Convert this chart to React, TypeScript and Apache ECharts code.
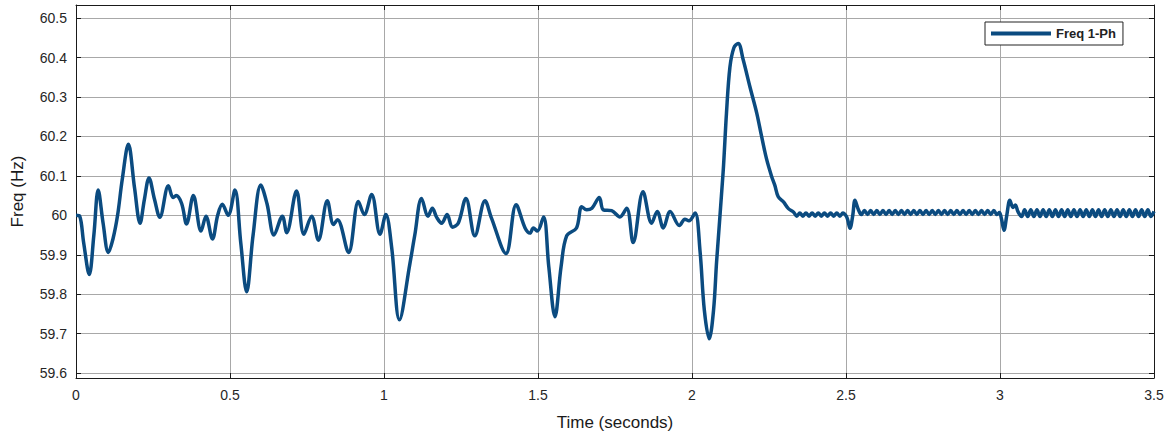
import React, { useEffect, useRef } from "react";
import * as echarts from "echarts";

const seriesName = "Freq 1-Ph";
const xTicks = [0, 0.5, 1, 1.5, 2, 2.5, 3, 3.5];
const yTicks = [59.6, 59.7, 59.8, 59.9, 60.0, 60.1, 60.2, 60.3, 60.4, 60.5];

// [time (s), frequency (Hz)]
const transientA: number[][] = [
  [0, 60.0], [0.012, 59.998], [0.025, 59.93], [0.043, 59.85], [0.058, 59.95],
  [0.072, 60.064], [0.088, 59.98], [0.105, 59.906], [0.12, 59.94], [0.135, 60.0],
  [0.15, 60.09], [0.17, 60.18], [0.19, 60.07], [0.208, 59.98], [0.222, 60.04],
  [0.237, 60.095], [0.255, 60.04], [0.272, 59.995], [0.3, 60.075], [0.315, 60.045],
  [0.325, 60.05], [0.343, 60.03], [0.359, 59.978], [0.381, 60.05], [0.406, 59.96],
  [0.422, 59.998], [0.443, 59.94], [0.46, 60.0], [0.475, 60.028], [0.494, 60.0],
  [0.516, 60.064], [0.535, 59.93], [0.554, 59.806], [0.575, 59.95], [0.6, 60.077],
  [0.62, 60.03], [0.643, 59.95], [0.67, 59.998], [0.684, 59.956], [0.716, 60.062],
  [0.74, 59.952], [0.765, 59.998], [0.787, 59.937], [0.816, 60.037], [0.836, 59.977],
  [0.849, 59.989], [0.885, 59.906], [0.917, 60.035], [0.936, 60.002], [0.96, 60.053],
  [0.987, 59.952], [1.006, 60.002], [1.025, 59.918], [1.05, 59.735], [1.084, 59.877],
  [1.1, 59.95], [1.122, 60.043], [1.143, 59.998], [1.157, 60.018], [1.171, 59.995],
  [1.187, 59.98], [1.205, 60.002], [1.222, 59.97], [1.241, 59.98], [1.266, 60.043],
  [1.295, 59.948], [1.328, 60.037], [1.349, 59.993], [1.396, 59.903], [1.429, 60.027],
  [1.458, 59.968], [1.474, 59.955], [1.485, 59.968], [1.498, 59.96], [1.518, 59.996],
  [1.535, 59.87], [1.555, 59.743], [1.575, 59.87], [1.593, 59.948], [1.625, 59.968],
  [1.642, 60.022], [1.658, 60.014], [1.675, 60.018], [1.699, 60.045], [1.712, 60.014],
  [1.739, 60.012], [1.766, 59.996], [1.788, 60.018], [1.809, 59.931], [1.841, 60.06],
  [1.869, 59.98], [1.887, 60.01], [1.907, 59.968], [1.929, 60.01], [1.959, 59.974],
  [1.977, 59.99], [1.99, 59.986], [2.01, 60.006], [2.026, 59.91], [2.04, 59.76],
  [2.056, 59.687], [2.07, 59.76], [2.08, 59.884], [2.101, 60.109], [2.112, 60.26],
  [2.123, 60.375], [2.136, 60.425], [2.15, 60.436], [2.166, 60.395], [2.188, 60.326],
  [2.21, 60.26], [2.226, 60.2], [2.242, 60.143], [2.258, 60.1], [2.269, 60.076],
  [2.28, 60.047], [2.297, 60.034], [2.313, 60.017], [2.33, 60.008],
];

const rippleB: number[][] = [
  [2.34, 59.998], [2.35, 60.006], [2.36, 59.998], [2.37, 60.006], [2.38, 59.998],
  [2.39, 60.006], [2.4, 59.998], [2.41, 60.006], [2.42, 59.998], [2.43, 60.006],
  [2.44, 59.998], [2.45, 60.006], [2.46, 59.998], [2.47, 60.006], [2.48, 59.998],
  [2.49, 60.006], [2.5, 59.999],
];

const stepC: number[][] = [
  [2.505, 59.99], [2.513, 59.967], [2.522, 60.0], [2.529, 60.038], [2.54, 60.015],
];

const rippleD: number[][] = [
  [2.55, 60.002], [2.56, 60.012], [2.57, 60.002], [2.58, 60.012], [2.59, 60.002],
  [2.6, 60.012], [2.61, 60.002], [2.62, 60.012], [2.63, 60.002], [2.64, 60.012],
  [2.65, 60.002], [2.66, 60.012], [2.67, 60.002], [2.68, 60.012], [2.69, 60.002],
  [2.7, 60.012], [2.71, 60.002], [2.72, 60.012], [2.73, 60.002], [2.74, 60.012],
  [2.75, 60.002], [2.76, 60.012], [2.77, 60.002], [2.78, 60.012], [2.79, 60.002],
  [2.8, 60.012], [2.81, 60.002], [2.82, 60.012], [2.83, 60.002], [2.84, 60.012],
  [2.85, 60.002], [2.86, 60.012], [2.87, 60.002], [2.88, 60.012], [2.89, 60.002],
  [2.9, 60.012], [2.91, 60.002], [2.92, 60.012], [2.93, 60.002], [2.94, 60.012],
  [2.95, 60.002], [2.96, 60.012], [2.97, 60.002], [2.98, 60.012], [2.99, 60.002],
  [2.998, 60.007],
];

const stepE: number[][] = [
  [3.005, 59.99], [3.013, 59.962], [3.022, 60.0], [3.032, 60.038], [3.042, 60.02],
  [3.05, 60.026], [3.058, 60.01],
];

const rippleF: number[][] = [
  [3.07, 59.997], [3.08, 60.014], [3.09, 59.997], [3.1, 60.014], [3.11, 59.997],
  [3.12, 60.014], [3.13, 59.997], [3.14, 60.014], [3.15, 59.997], [3.16, 60.014],
  [3.17, 59.997], [3.18, 60.014], [3.19, 59.997], [3.2, 60.014], [3.21, 59.997],
  [3.22, 60.014], [3.23, 59.997], [3.24, 60.014], [3.25, 59.997], [3.26, 60.014],
  [3.27, 59.997], [3.28, 60.014], [3.29, 59.997], [3.3, 60.014], [3.31, 59.997],
  [3.32, 60.014], [3.33, 59.997], [3.34, 60.014], [3.35, 59.997], [3.36, 60.014],
  [3.37, 59.997], [3.38, 60.014], [3.39, 59.997], [3.4, 60.014], [3.41, 59.997],
  [3.42, 60.014], [3.43, 59.997], [3.44, 60.014], [3.45, 59.997], [3.46, 60.014],
  [3.47, 59.997], [3.48, 60.014], [3.49, 59.997], [3.5, 60.01],
];

const FONT = "'Liberation Sans', Arial, sans-serif";

export default function App() {
  const ref = useRef<HTMLDivElement>(null);
  useEffect(() => {
    document.body.style.margin = "0";
    const chart = echarts.init(ref.current!, null, { renderer: "svg" });
    const data = [...transientA, ...rippleB, ...stepC, ...rippleD, ...stepE, ...rippleF];
    const gridLine = { show: true, lineStyle: { color: "#a8a8a8", width: 1 } };
    const lineBlack = { show: true, onZero: false, lineStyle: { color: "#1a1a1a", width: 1 } };
    chart.setOption({
      animation: false,
      backgroundColor: "#ffffff",
      grid: { left: 76, right: 19, top: 5, bottom: 54, containLabel: false },
      legend: {
        left: 985,
        top: 22,
        data: [seriesName],
        icon: "rect",
        itemWidth: 60,
        itemHeight: 4,
        itemGap: 4,
        padding: [5, 7, 5, 6],
        borderColor: "#222",
        borderWidth: 1,
        backgroundColor: "#fff",
        textStyle: { fontFamily: FONT, fontSize: 13, fontWeight: "bold", color: "#222" },
      },
      xAxis: [
        {
          type: "value",
          min: 0,
          max: 3.5,
          interval: 0.5,
          position: "bottom",
          name: "Time (seconds)",
          nameLocation: "middle",
          nameGap: 36,
          nameTextStyle: { fontFamily: FONT, fontSize: 17, color: "#1a1a1a" },
          axisLine: lineBlack,
          axisTick: { show: true, inside: true, length: 5, lineStyle: { color: "#1a1a1a" } },
          axisLabel: {
            fontFamily: FONT,
            fontSize: 14,
            color: "#262626",
            margin: 10,
            customValues: xTicks,
            formatter: (v: number) => String(v),
          },
          splitLine: gridLine,
        },
        {
          type: "value",
          min: 0,
          max: 3.5,
          interval: 0.5,
          position: "top",
          axisLine: lineBlack,
          axisTick: { show: true, inside: true, length: 5, lineStyle: { color: "#1a1a1a" } },
          axisLabel: { show: false },
          splitLine: { show: false },
        },
      ],
      yAxis: [
        {
          type: "value",
          min: 59.5875,
          max: 60.5334,
          position: "left",
          name: "Freq (Hz)",
          nameLocation: "middle",
          nameGap: 50,
          nameTextStyle: { fontFamily: FONT, fontSize: 17, color: "#1a1a1a" },
          axisLine: lineBlack,
          axisTick: { show: true, inside: true, length: 5, customValues: yTicks, lineStyle: { color: "#1a1a1a" } },
          axisLabel: {
            fontFamily: FONT,
            fontSize: 14,
            color: "#262626",
            margin: 9,
            customValues: yTicks,
            formatter: (v: number) => String(Math.round(v * 10) / 10),
          },
          splitLine: gridLine,
        },
        {
          type: "value",
          min: 59.5875,
          max: 60.5334,
          position: "right",
          axisLine: lineBlack,
          axisTick: { show: true, inside: true, length: 5, customValues: yTicks, lineStyle: { color: "#1a1a1a" } },
          axisLabel: { show: false, customValues: yTicks },
          splitLine: { show: false },
        },
      ],
      series: [
        {
          name: seriesName,
          type: "line",
          xAxisIndex: 0,
          yAxisIndex: 0,
          data,
          smooth: 0.35,
          showSymbol: false,
          symbol: "none",
          lineStyle: { color: "#0b4b80", width: 3.5 },
          itemStyle: { color: "#0b4b80" },
        },
      ],
    });
    return () => chart.dispose();
  }, []);
  return <div ref={ref} style={{ width: 1173, height: 436 }} />;
}
